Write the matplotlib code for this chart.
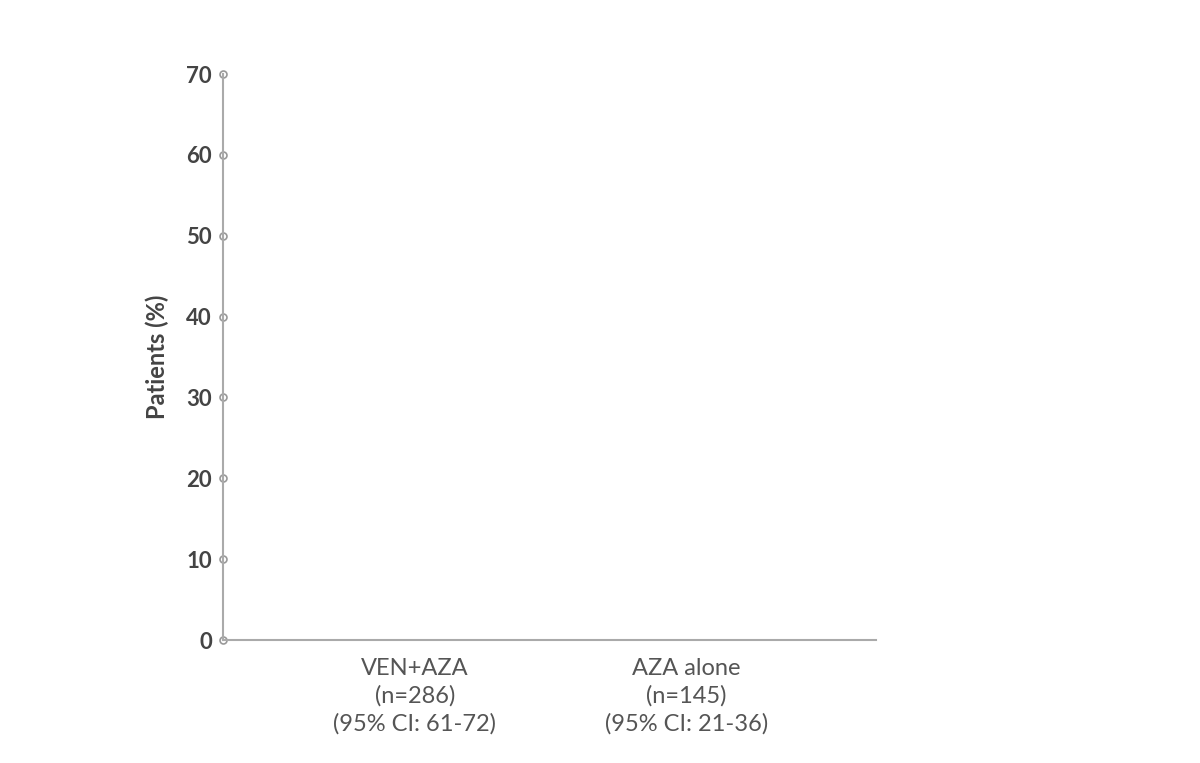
import matplotlib
matplotlib.use("Agg")
import matplotlib.pyplot as plt

categories = ["VEN+AZA\n(n=286)\n(95% CI: 61-72)", "AZA alone\n(n=145)\n(95% CI: 21-36)"]
y_ticks = [0, 10, 20, 30, 40, 50, 60, 70]
y_label = "Patients (%)"

plt.rcParams['font.family'] = ['Lato', 'DejaVu Sans']

fig = plt.figure(figsize=(12, 7.63), dpi=100)
ax = fig.add_axes([0.1858, 0.1612, 0.5442, 0.7418])

x = list(range(len(categories)))
ax.set_xlim(-0.708, 1.70)
ax.set_ylim(0, 70)
ax.set_xticks(x)
ax.set_xticklabels(categories, fontsize=17, color="#555555", linespacing=1.36)
ax.tick_params(axis='x', length=0, pad=13)
ax.set_yticks(y_ticks)
ax.set_yticklabels([str(v) for v in y_ticks], fontsize=16, color="#444444", fontweight="bold")
ax.tick_params(axis='y', length=0, pad=8)
for t in ax.yaxis.get_major_ticks():
    t.tick1line.set_marker('o')
    t.tick1line.set_markersize(5)
    t.tick1line.set_markerfacecolor('white')
    t.tick1line.set_markeredgecolor('#999999')
    t.tick1line.set_markeredgewidth(1.2)
    t.tick1line.set_clip_on(False)
    t.tick1line.set_zorder(5)

for s in ["top", "right"]:
    ax.spines[s].set_visible(False)
for s in ["left", "bottom"]:
    ax.spines[s].set_color("#aaaaaa")
    ax.spines[s].set_linewidth(1.5)

ax.set_ylabel(y_label, fontsize=17, color="#444444", fontweight="bold", labelpad=12)

fig.savefig("out.png", dpi=100, facecolor="white")
